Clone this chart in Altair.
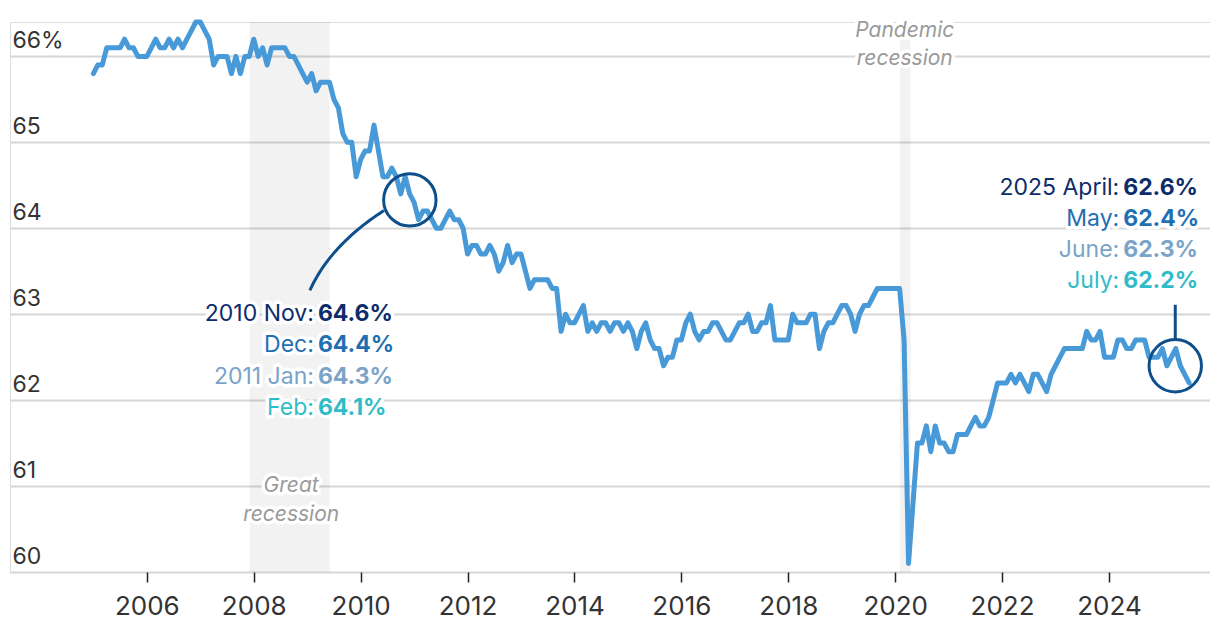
import altair as alt
import pandas as pd

# Monthly labor force participation rate (%), Jan 2005 - Jul 2025
y2005 = [65.8, 65.9, 65.9, 66.1, 66.1, 66.1, 66.1, 66.2, 66.1, 66.1, 66.0, 66.0]
y2006 = [66.0, 66.1, 66.2, 66.1, 66.1, 66.2, 66.1, 66.2, 66.1, 66.2, 66.3, 66.4]
y2007 = [66.4, 66.3, 66.2, 65.9, 66.0, 66.0, 66.0, 65.8, 66.0, 65.8, 66.0, 66.0]
y2008 = [66.2, 66.0, 66.1, 65.9, 66.1, 66.1, 66.1, 66.1, 66.0, 66.0, 65.9, 65.8]
y2009 = [65.7, 65.8, 65.6, 65.7, 65.7, 65.7, 65.5, 65.4, 65.1, 65.0, 65.0, 64.6]
y2010 = [64.8, 64.9, 64.9, 65.2, 64.9, 64.6, 64.6, 64.7, 64.6, 64.4, 64.6, 64.4]
y2011 = [64.3, 64.1, 64.2, 64.2, 64.1, 64.0, 64.0, 64.1, 64.2, 64.1, 64.1, 64.0]
y2012 = [63.7, 63.8, 63.8, 63.7, 63.7, 63.8, 63.7, 63.5, 63.6, 63.8, 63.6, 63.7]
y2013 = [63.7, 63.5, 63.3, 63.4, 63.4, 63.4, 63.4, 63.3, 63.3, 62.8, 63.0, 62.9]
y2014 = [62.9, 63.0, 63.1, 62.8, 62.9, 62.8, 62.9, 62.9, 62.8, 62.9, 62.9, 62.8]
y2015 = [62.9, 62.8, 62.6, 62.8, 62.9, 62.7, 62.6, 62.6, 62.4, 62.5, 62.5, 62.7]
y2016 = [62.7, 62.9, 63.0, 62.8, 62.7, 62.8, 62.8, 62.9, 62.9, 62.8, 62.7, 62.7]
y2017 = [62.8, 62.9, 62.9, 63.0, 62.8, 62.8, 62.9, 62.9, 63.1, 62.7, 62.7, 62.7]
y2018 = [62.7, 63.0, 62.9, 62.9, 62.9, 63.0, 63.0, 62.6, 62.8, 62.9, 62.9, 63.0]
y2019 = [63.1, 63.1, 63.0, 62.8, 63.0, 63.1, 63.1, 63.2, 63.3, 63.3, 63.3, 63.3]
y2020 = [63.3, 63.3, 62.7, 60.1, 60.8, 61.5, 61.5, 61.7, 61.4, 61.7, 61.5, 61.5]
y2021 = [61.4, 61.4, 61.6, 61.6, 61.6, 61.7, 61.8, 61.7, 61.7, 61.8, 62.0, 62.2]
y2022 = [62.2, 62.2, 62.3, 62.2, 62.3, 62.2, 62.1, 62.3, 62.3, 62.2, 62.1, 62.3]
y2023 = [62.4, 62.5, 62.6, 62.6, 62.6, 62.6, 62.6, 62.8, 62.7, 62.7, 62.8, 62.5]
y2024 = [62.5, 62.5, 62.7, 62.7, 62.6, 62.6, 62.7, 62.7, 62.7, 62.5, 62.5, 62.5]
y2025 = [62.6, 62.4, 62.5, 62.6, 62.4, 62.3, 62.2]

start_year = 2005
yearly = [y2005, y2006, y2007, y2008, y2009, y2010, y2011, y2012, y2013, y2014,
          y2015, y2016, y2017, y2018, y2019, y2020, y2021, y2022, y2023, y2024, y2025]

# Recessions (fractional years)
rec_start = [2007.92, 2020.09]
rec_end = [2009.42, 2020.29]
rec_label_x = [2008.70, 2008.70, 2020.18, 2020.18]
rec_label_y = [61.0, 60.66, 66.3, 65.97]
rec_label_text = ["Great", "recession", "Pandemic", "recession"]

x_ticks = [2006, 2008, 2010, 2012, 2014, 2016, 2018, 2020, 2022, 2024]
y_ticks = [60, 61, 62, 63, 64, 65, 66]

# Annotations
circle_x = [2010.92, 2025.24]
circle_y = [64.33, 62.40]
leader_ctrl_x = [2009.05, 2009.425, 2010.435]
leader_ctrl_y = [63.276, 63.799, 64.206]
stem_x = [2025.24]
stem_y1 = [63.11]
stem_y2 = [62.71]

ann_prefix = ["2010 Nov:", "Dec:", "2011 Jan:", "Feb:",
              "2025 April:", "May:", "June:", "July:"]
ann_value = ["64.6%", "64.4%", "64.3%", "64.1%",
             "62.6%", "62.4%", "62.3%", "62.2%"]
ann_x = [2009.20] * 4 + [2024.266] * 4
ann_y = [63.0, 62.64, 62.27, 61.91, 64.47, 64.11, 63.75, 63.39]
ann_color = ["#0c2c6b", "#1f6fb3", "#7aa3c8", "#2fbcc8",
             "#0c2c6b", "#1f6fb3", "#7aa3c8", "#2fbcc8"]

FONT = "Inter"
X_DOMAIN = [2003.44, 2025.89]
Y_DOMAIN = [60, 66.4]

# ---- build tables ----
rows = []
for i, vals in enumerate(yearly):
    for m, v in enumerate(vals):
        rows.append({"t": start_year + i + m / 12.0, "v": v})
series = pd.DataFrame(rows)

bands = pd.DataFrame({"start": rec_start, "end": rec_end,
                      "top": [Y_DOMAIN[1]] * 2, "bottom": [Y_DOMAIN[0]] * 2})
rec_labels = pd.DataFrame({"x": rec_label_x, "y": rec_label_y, "text": rec_label_text})
circles = pd.DataFrame({"x": circle_x, "y": circle_y})

n = 30
bez = []
for k in range(n + 1):
    t = k / n
    a, b, c = (1 - t) ** 2, 2 * t * (1 - t), t ** 2
    bez.append({"i": k,
                "x": a * leader_ctrl_x[0] + b * leader_ctrl_x[1] + c * leader_ctrl_x[2],
                "y": a * leader_ctrl_y[0] + b * leader_ctrl_y[1] + c * leader_ctrl_y[2]})
leader = pd.DataFrame(bez)
stem = pd.DataFrame({"x": stem_x, "y1": stem_y1, "y2": stem_y2})
ann = pd.DataFrame({"x": ann_x, "y": ann_y, "prefix": ann_prefix,
                    "value": ann_value, "color": ann_color})

xs = alt.Scale(domain=X_DOMAIN, nice=False, zero=False)
ys = alt.Scale(domain=Y_DOMAIN, nice=False, zero=False)

x_axis = alt.Axis(values=x_ticks, format="d", grid=False, domain=False, ticks=True,
                  tickColor="#222222", tickSize=10, tickWidth=1.5, labelPadding=11,
                  labelFont=FONT, labelFontSize=26, labelColor="#333333",
                  labelFlush=False, labelOverlap=False, title=None)
y_axis = alt.Axis(values=y_ticks, format="d", grid=True, gridColor="#d6d6d6", gridWidth=2,
                  domain=False, ticks=False, tickSize=0, labelAlign="left",
                  labelPadding=-2, labelBaseline="alphabetic", labelOffset=-9,
                  labelFont=FONT, labelFontSize=23, labelColor="#333333",
                  labelFlush=False, labelOverlap=False, title=None,
                  labelExpr="datum.value == 66 ? '66%' : datum.label")

band_layer = alt.Chart(bands).mark_rect(color="black", opacity=0.052).encode(
    x=alt.X("start:Q", scale=xs, axis=x_axis),
    x2="end:Q",
    y=alt.Y("top:Q", scale=ys, axis=y_axis),
    y2="bottom:Q",
)

rec_halo = alt.Chart(rec_labels).mark_text(
    font=FONT, fontSize=21, fontStyle="italic", color="white", stroke="white",
    strokeWidth=7, strokeJoin="round", align="center", baseline="middle"
).encode(x=alt.X("x:Q", scale=xs), y=alt.Y("y:Q", scale=ys), text="text:N")
rec_text = alt.Chart(rec_labels).mark_text(
    font=FONT, fontSize=21, fontStyle="italic", color="#9a9a9a",
    align="center", baseline="middle"
).encode(x=alt.X("x:Q", scale=xs), y=alt.Y("y:Q", scale=ys), text="text:N")

line_layer = alt.Chart(series).mark_line(
    color="#4899d8", strokeWidth=5, strokeJoin="round", strokeCap="round"
).encode(x=alt.X("t:Q", scale=xs), y=alt.Y("v:Q", scale=ys))

circle_layer = alt.Chart(circles).mark_point(
    shape="circle", size=2750, filled=False, color="#0d4e8b", strokeWidth=3, opacity=1
).encode(x=alt.X("x:Q", scale=xs), y=alt.Y("y:Q", scale=ys))

leader_layer = alt.Chart(leader).mark_line(color="#0d4e8b", strokeWidth=3).encode(
    x=alt.X("x:Q", scale=xs), y=alt.Y("y:Q", scale=ys), order="i:Q")

stem_layer = alt.Chart(stem).mark_rule(color="#0d4e8b", strokeWidth=3).encode(
    x=alt.X("x:Q", scale=xs), y=alt.Y("y1:Q", scale=ys), y2="y2:Q")

def ann_text(field, weight, align, dx, halo):
    kw = dict(font=FONT, fontSize=23, fontWeight=weight, align=align,
              baseline="middle", dx=dx)
    if halo:
        kw.update(color="white", stroke="white", strokeWidth=7, strokeJoin="round")
        enc = {}
    else:
        enc = {"color": alt.Color("color:N", scale=None)}
    return alt.Chart(ann).mark_text(**kw).encode(
        x=alt.X("x:Q", scale=xs), y=alt.Y("y:Q", scale=ys),
        text=f"{field}:N", **enc)

layers = [band_layer, rec_halo, rec_text, line_layer, circle_layer, leader_layer,
          stem_layer,
          ann_text("prefix", "normal", "right", -4, True),
          ann_text("value", "bold", "left", 0, True),
          ann_text("prefix", "normal", "right", -4, False),
          ann_text("value", "bold", "left", 0, False)]

chart = alt.layer(*layers).properties(
    width=1200, height=550,
    padding={"left": 2, "top": 14, "right": 0, "bottom": 58},
    autosize=alt.AutoSizeParams(type="none"),
).configure_view(stroke=None).configure(background="white")

chart.save("out.html", embed_options={"renderer": "svg", "actions": False})
